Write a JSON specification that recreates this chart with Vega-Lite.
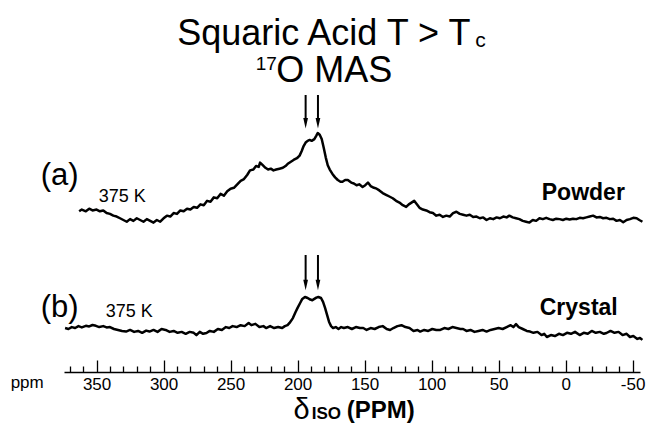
{
  "$schema": "https://vega.github.io/schema/vega-lite/v6.json",
  "width": 576,
  "height": 372,
  "autosize": {"type": "none"},
  "padding": {"left": 64, "top": 0, "right": 6, "bottom": 58},
  "background": "white",
  "config": {
    "view": {"stroke": null},
    "font": "Liberation Sans",
    "text": {"font": "Liberation Sans", "baseline": "alphabetic", "align": "left", "color": "black"}
  },
  "datasets": {
    "powder": [
      {"ppm": 363, "i": 0.10}, {"ppm": 361, "i": 0.12}, {"ppm": 358, "i": 0.10}, {"ppm": 355.5, "i": 0.13}, {"ppm": 353, "i": 0.11},
      {"ppm": 350, "i": 0.12}, {"ppm": 347.5, "i": 0.10}, {"ppm": 345, "i": 0.11}, {"ppm": 342.5, "i": 0.08}, {"ppm": 340, "i": 0.07},
      {"ppm": 337.5, "i": 0.05}, {"ppm": 335, "i": 0.04}, {"ppm": 332.5, "i": 0.02}, {"ppm": 330, "i": 0.0}, {"ppm": 327.5, "i": -0.02},
      {"ppm": 325, "i": 0.01}, {"ppm": 322.5, "i": -0.01}, {"ppm": 320, "i": 0.02}, {"ppm": 317.5, "i": 0.0}, {"ppm": 315, "i": -0.02},
      {"ppm": 312.5, "i": 0.01}, {"ppm": 310, "i": -0.01}, {"ppm": 307.5, "i": -0.03}, {"ppm": 305, "i": 0.0}, {"ppm": 302.5, "i": -0.02},
      {"ppm": 300, "i": 0.02}, {"ppm": 297.5, "i": 0.05}, {"ppm": 295, "i": 0.04}, {"ppm": 292.5, "i": 0.08}, {"ppm": 290, "i": 0.07},
      {"ppm": 287.5, "i": 0.11}, {"ppm": 285, "i": 0.10}, {"ppm": 282.5, "i": 0.13}, {"ppm": 280, "i": 0.12}, {"ppm": 277.5, "i": 0.15},
      {"ppm": 275, "i": 0.14}, {"ppm": 272.5, "i": 0.18}, {"ppm": 270, "i": 0.17}, {"ppm": 267.5, "i": 0.22}, {"ppm": 265, "i": 0.21},
      {"ppm": 262.5, "i": 0.26}, {"ppm": 260, "i": 0.25}, {"ppm": 257.5, "i": 0.30}, {"ppm": 255, "i": 0.28}, {"ppm": 252.5, "i": 0.33},
      {"ppm": 250, "i": 0.36}, {"ppm": 247.5, "i": 0.37}, {"ppm": 245, "i": 0.41}, {"ppm": 242.5, "i": 0.45}, {"ppm": 240, "i": 0.47},
      {"ppm": 237.5, "i": 0.52}, {"ppm": 235.5, "i": 0.57}, {"ppm": 233, "i": 0.58}, {"ppm": 231, "i": 0.62}, {"ppm": 229, "i": 0.61},
      {"ppm": 228, "i": 0.66}, {"ppm": 226, "i": 0.63}, {"ppm": 224, "i": 0.60}, {"ppm": 222, "i": 0.58}, {"ppm": 220, "i": 0.59},
      {"ppm": 218, "i": 0.57}, {"ppm": 216, "i": 0.58}, {"ppm": 213.5, "i": 0.59}, {"ppm": 211, "i": 0.60}, {"ppm": 209, "i": 0.62},
      {"ppm": 207, "i": 0.65}, {"ppm": 205, "i": 0.67}, {"ppm": 203, "i": 0.69}, {"ppm": 200.5, "i": 0.71}, {"ppm": 198.5, "i": 0.74},
      {"ppm": 197, "i": 0.79}, {"ppm": 195.5, "i": 0.85}, {"ppm": 194, "i": 0.89}, {"ppm": 192.5, "i": 0.91}, {"ppm": 191, "i": 0.92},
      {"ppm": 189.5, "i": 0.91}, {"ppm": 187.5, "i": 0.93}, {"ppm": 186, "i": 0.97}, {"ppm": 185, "i": 1.0}, {"ppm": 183.5, "i": 0.98},
      {"ppm": 182, "i": 0.93}, {"ppm": 180.5, "i": 0.83}, {"ppm": 179, "i": 0.72}, {"ppm": 177.5, "i": 0.63}, {"ppm": 176, "i": 0.58},
      {"ppm": 174, "i": 0.53}, {"ppm": 172, "i": 0.49}, {"ppm": 170, "i": 0.46}, {"ppm": 168, "i": 0.44}, {"ppm": 166.5, "i": 0.44},
      {"ppm": 164.5, "i": 0.46}, {"ppm": 162.5, "i": 0.46}, {"ppm": 160, "i": 0.43}, {"ppm": 158, "i": 0.42}, {"ppm": 156, "i": 0.40},
      {"ppm": 154, "i": 0.41}, {"ppm": 151.5, "i": 0.38}, {"ppm": 149.5, "i": 0.40}, {"ppm": 147.5, "i": 0.43}, {"ppm": 145.5, "i": 0.39},
      {"ppm": 143, "i": 0.37}, {"ppm": 141, "i": 0.36}, {"ppm": 139, "i": 0.34}, {"ppm": 136.5, "i": 0.31}, {"ppm": 134, "i": 0.29},
      {"ppm": 131.5, "i": 0.27}, {"ppm": 129, "i": 0.25}, {"ppm": 126.5, "i": 0.22}, {"ppm": 124, "i": 0.20}, {"ppm": 121.5, "i": 0.17},
      {"ppm": 119, "i": 0.15}, {"ppm": 117, "i": 0.18}, {"ppm": 115, "i": 0.20}, {"ppm": 113, "i": 0.22}, {"ppm": 111, "i": 0.18},
      {"ppm": 109, "i": 0.14}, {"ppm": 106.5, "i": 0.12}, {"ppm": 104, "i": 0.11}, {"ppm": 101.5, "i": 0.09}, {"ppm": 99, "i": 0.08},
      {"ppm": 96.5, "i": 0.05}, {"ppm": 94, "i": 0.06}, {"ppm": 91.5, "i": 0.035}, {"ppm": 89, "i": 0.05}, {"ppm": 86.5, "i": 0.04},
      {"ppm": 84, "i": 0.08}, {"ppm": 81.5, "i": 0.095}, {"ppm": 79, "i": 0.07}, {"ppm": 76.5, "i": 0.06}, {"ppm": 74, "i": 0.05},
      {"ppm": 71.5, "i": 0.06}, {"ppm": 69, "i": 0.035}, {"ppm": 66.5, "i": 0.04}, {"ppm": 64, "i": 0.02}, {"ppm": 61.5, "i": 0.03},
      {"ppm": 59, "i": 0.0}, {"ppm": 56.5, "i": 0.02}, {"ppm": 54, "i": 0.01}, {"ppm": 51.5, "i": 0.03}, {"ppm": 49, "i": 0.02},
      {"ppm": 46.5, "i": 0.04}, {"ppm": 44, "i": 0.03}, {"ppm": 42, "i": 0.05}, {"ppm": 39.5, "i": 0.03}, {"ppm": 37, "i": 0.02},
      {"ppm": 34.5, "i": 0.01}, {"ppm": 32, "i": -0.01}, {"ppm": 29.5, "i": -0.02}, {"ppm": 27, "i": -0.03}, {"ppm": 24.5, "i": 0.0},
      {"ppm": 22, "i": -0.01}, {"ppm": 19.5, "i": 0.02}, {"ppm": 17, "i": 0.01}, {"ppm": 14.5, "i": 0.025}, {"ppm": 12, "i": 0.01},
      {"ppm": 9.5, "i": 0.0}, {"ppm": 7, "i": 0.015}, {"ppm": 4.5, "i": 0.01}, {"ppm": 2, "i": 0.0}, {"ppm": -0.5, "i": 0.015},
      {"ppm": -3, "i": 0.005}, {"ppm": -5.5, "i": 0.015}, {"ppm": -8, "i": 0.01}, {"ppm": -10.5, "i": 0.025}, {"ppm": -13, "i": 0.02},
      {"ppm": -15.5, "i": 0.03}, {"ppm": -18, "i": 0.04}, {"ppm": -20.5, "i": 0.05}, {"ppm": -23, "i": 0.03}, {"ppm": -25.5, "i": 0.035},
      {"ppm": -28, "i": 0.02}, {"ppm": -30.5, "i": 0.025}, {"ppm": -33, "i": 0.01}, {"ppm": -35.5, "i": 0.015}, {"ppm": -38, "i": -0.01},
      {"ppm": -40.5, "i": 0.0}, {"ppm": -43, "i": -0.025}, {"ppm": -45.5, "i": 0.0}, {"ppm": -48, "i": 0.01}, {"ppm": -50.5, "i": 0.025},
      {"ppm": -53, "i": 0.02}, {"ppm": -55, "i": 0.0}, {"ppm": -57.3, "i": -0.02}
    ],
    "crystal": [
      {"ppm": 373.5, "i": 0.03}, {"ppm": 371, "i": 0.0}, {"ppm": 368.5, "i": 0.06}, {"ppm": 366, "i": 0.03}, {"ppm": 363.5, "i": 0.09},
      {"ppm": 361, "i": 0.05}, {"ppm": 358, "i": 0.10}, {"ppm": 355.5, "i": 0.08}, {"ppm": 353, "i": 0.125}, {"ppm": 350.5, "i": 0.10},
      {"ppm": 348, "i": 0.06}, {"ppm": 345, "i": 0.09}, {"ppm": 342.5, "i": 0.05}, {"ppm": 340, "i": 0.06}, {"ppm": 337, "i": 0.0},
      {"ppm": 334, "i": -0.03}, {"ppm": 331, "i": -0.06}, {"ppm": 328, "i": -0.08}, {"ppm": 325, "i": -0.03}, {"ppm": 322, "i": -0.09},
      {"ppm": 319, "i": -0.06}, {"ppm": 316, "i": -0.12}, {"ppm": 313, "i": -0.05}, {"ppm": 310.5, "i": -0.08}, {"ppm": 307.5, "i": -0.03},
      {"ppm": 304.5, "i": -0.09}, {"ppm": 301.5, "i": 0.0}, {"ppm": 298.5, "i": -0.03}, {"ppm": 295.5, "i": -0.09}, {"ppm": 292.5, "i": -0.06},
      {"ppm": 289.5, "i": -0.12}, {"ppm": 286.5, "i": -0.09}, {"ppm": 283.5, "i": -0.15}, {"ppm": 280.5, "i": -0.09}, {"ppm": 277.5, "i": -0.12},
      {"ppm": 275.5, "i": -0.19}, {"ppm": 273, "i": -0.09}, {"ppm": 270.5, "i": -0.15}, {"ppm": 268, "i": -0.125}, {"ppm": 265.5, "i": -0.06},
      {"ppm": 262.5, "i": -0.09}, {"ppm": 259.5, "i": 0.0}, {"ppm": 256.5, "i": -0.03}, {"ppm": 253.5, "i": 0.06}, {"ppm": 251, "i": 0.03},
      {"ppm": 248.5, "i": 0.09}, {"ppm": 245.5, "i": 0.06}, {"ppm": 242.5, "i": 0.12}, {"ppm": 239.5, "i": 0.09}, {"ppm": 236.5, "i": 0.19},
      {"ppm": 234.5, "i": 0.12}, {"ppm": 231.5, "i": 0.16}, {"ppm": 228.5, "i": 0.06}, {"ppm": 225.5, "i": 0.09}, {"ppm": 223.5, "i": 0.03},
      {"ppm": 220.5, "i": 0.09}, {"ppm": 217.5, "i": 0.03}, {"ppm": 214.5, "i": 0.06}, {"ppm": 211.5, "i": 0.03}, {"ppm": 209.5, "i": 0.09},
      {"ppm": 207.5, "i": 0.12}, {"ppm": 206, "i": 0.19}, {"ppm": 203.5, "i": 0.34}, {"ppm": 201.5, "i": 0.53}, {"ppm": 200, "i": 0.66},
      {"ppm": 198, "i": 0.82}, {"ppm": 196.5, "i": 0.94}, {"ppm": 194.5, "i": 1.0}, {"ppm": 192.5, "i": 0.97}, {"ppm": 190.5, "i": 0.92},
      {"ppm": 189, "i": 0.9}, {"ppm": 187.5, "i": 0.94}, {"ppm": 186, "i": 0.98}, {"ppm": 184.5, "i": 1.0}, {"ppm": 182.5, "i": 0.97},
      {"ppm": 181, "i": 0.85}, {"ppm": 179.5, "i": 0.66}, {"ppm": 178, "i": 0.44}, {"ppm": 176.5, "i": 0.22}, {"ppm": 175, "i": 0.09},
      {"ppm": 173.5, "i": 0.03}, {"ppm": 171.5, "i": 0.06}, {"ppm": 169.5, "i": 0.0}, {"ppm": 167.5, "i": 0.06}, {"ppm": 165.5, "i": 0.03},
      {"ppm": 162.5, "i": 0.06}, {"ppm": 159.5, "i": 0.0}, {"ppm": 156.5, "i": 0.06}, {"ppm": 153.5, "i": 0.03}, {"ppm": 151, "i": 0.03},
      {"ppm": 148.5, "i": -0.03}, {"ppm": 145.5, "i": 0.03}, {"ppm": 142.5, "i": 0.0}, {"ppm": 139.5, "i": 0.06}, {"ppm": 136.5, "i": 0.09},
      {"ppm": 133.5, "i": 0.0}, {"ppm": 131, "i": -0.03}, {"ppm": 128.5, "i": 0.03}, {"ppm": 125.5, "i": 0.09}, {"ppm": 122.5, "i": 0.12},
      {"ppm": 119.5, "i": 0.06}, {"ppm": 116.5, "i": 0.03}, {"ppm": 113.5, "i": -0.06}, {"ppm": 110.5, "i": -0.03}, {"ppm": 108.5, "i": -0.08},
      {"ppm": 105.5, "i": -0.03}, {"ppm": 102.5, "i": -0.06}, {"ppm": 99.5, "i": 0.0}, {"ppm": 96.5, "i": -0.03}, {"ppm": 93.5, "i": -0.03},
      {"ppm": 90.5, "i": 0.03}, {"ppm": 87.5, "i": 0.0}, {"ppm": 84.5, "i": 0.06}, {"ppm": 81.5, "i": 0.03}, {"ppm": 78.5, "i": 0.0},
      {"ppm": 76.5, "i": 0.0}, {"ppm": 74, "i": -0.06}, {"ppm": 71, "i": -0.03}, {"ppm": 68, "i": -0.09}, {"ppm": 65, "i": -0.06},
      {"ppm": 62, "i": -0.03}, {"ppm": 59, "i": -0.08}, {"ppm": 56, "i": -0.03}, {"ppm": 53, "i": 0.0}, {"ppm": 50, "i": 0.03},
      {"ppm": 47, "i": 0.0}, {"ppm": 44, "i": 0.06}, {"ppm": 41, "i": 0.12}, {"ppm": 39, "i": 0.06}, {"ppm": 37, "i": 0.15},
      {"ppm": 35, "i": 0.06}, {"ppm": 32, "i": 0.0}, {"ppm": 29, "i": -0.06}, {"ppm": 26.5, "i": -0.08}, {"ppm": 24, "i": -0.12},
      {"ppm": 21, "i": -0.09}, {"ppm": 18, "i": -0.19}, {"ppm": 16, "i": -0.15}, {"ppm": 14, "i": -0.25}, {"ppm": 11, "i": -0.19},
      {"ppm": 8, "i": -0.22}, {"ppm": 5, "i": -0.15}, {"ppm": 2, "i": -0.19}, {"ppm": -1, "i": -0.12}, {"ppm": -4, "i": -0.15},
      {"ppm": -7, "i": -0.09}, {"ppm": -10.5, "i": -0.19}, {"ppm": -13.5, "i": -0.12}, {"ppm": -16.5, "i": -0.15}, {"ppm": -19.5, "i": -0.06},
      {"ppm": -22.5, "i": -0.12}, {"ppm": -25.5, "i": -0.09}, {"ppm": -28.5, "i": -0.15}, {"ppm": -30.5, "i": -0.125}, {"ppm": -33.5, "i": -0.06},
      {"ppm": -36.5, "i": -0.12}, {"ppm": -39.5, "i": -0.09}, {"ppm": -42.5, "i": -0.19}, {"ppm": -45.5, "i": -0.15}, {"ppm": -48, "i": -0.25},
      {"ppm": -50.5, "i": -0.22}, {"ppm": -53.5, "i": -0.31}, {"ppm": -55.5, "i": -0.28}, {"ppm": -57.3, "i": -0.34}
    ],
    "powderArrows": [
      {"ppm": 194.0, "top": 1.4368, "bot": 1.1494, "tip": 1.1115},
      {"ppm": 184.8, "top": 1.4368, "bot": 1.1494, "tip": 1.1115}
    ],
    "crystalArrows": [
      {"ppm": 194.0, "top": 2.3125, "bot": 1.46875, "tip": 1.375},
      {"ppm": 184.8, "top": 2.3125, "bot": 1.46875, "tip": 1.375}
    ],
    "titleBig": [
      {"ppm": 289.8, "v": 2.0115, "t": "Squaric Acid T > T"},
      {"ppm": 216.0, "v": 1.5862, "t": "O MAS"}
    ],
    "titleSub": [{"ppm": 67.5, "v": 1.9885, "t": "c"}],
    "titleSup": [{"ppm": 231.3, "v": 1.7241, "t": "17"}],
    "labelA": [{"ppm": 391.7, "v": 0.4023, "t": "(a)"}],
    "tempA": [{"ppm": 348.4, "v": 0.2103, "t": "375 K"}],
    "namePowder": [{"ppm": 17.8, "v": 0.2356, "t": "Powder"}],
    "labelB": [{"ppm": 391.7, "v": 0.375, "t": "(b)"}],
    "tempB": [{"ppm": 343.2, "v": 0.384, "t": "375 K"}],
    "nameCrystal": [{"ppm": 19.3, "v": 0.4375, "t": "Crystal"}],
    "unitLabel": [{"ppm": 414.1, "v": -1.84375, "t": "ppm"}],
    "axisDelta": [{"ppm": 203, "v": -2.8125, "t": "δ"}],
    "axisIso": [{"ppm": 189.5, "v": -2.822, "t": "ISO"}],
    "axisPpm": [{"ppm": 163.4, "v": -2.79, "t": "(PPM)"}]
  },
  "resolve": {"scale": {"y": "independent"}, "axis": {"x": "independent", "y": "independent"}},
  "layer": [
    {
      "data": {"name": "powder"},
      "mark": {"type": "line", "color": "black", "strokeWidth": 2.5, "strokeJoin": "round", "clip": false},
      "encoding": {
        "x": {"field": "ppm", "type": "quantitative", "scale": {"domain": [-55.5, 374.3], "reverse": true, "nice": false, "zero": false},
          "axis": {"orient": "bottom", "values": [350, 300, 250, 200, 150, 100, 50, 0, -50], "ticks": false, "domain": true, "domainColor": "black", "domainWidth": 1.5, "labels": true, "labelFont": "Liberation Sans", "labelFontSize": 17, "labelColor": "black", "labelPadding": 4, "labelFlush": false, "labelOverlap": false, "labelBound": false, "labelExpr": "'' + datum.value", "grid": false, "title": null}},
        "y": {"field": "i", "type": "quantitative", "scale": {"domain": [-1.74713, 2.52874], "nice": false, "zero": false}, "axis": null},
        "order": {"field": "ppm", "sort": "descending"}
      }
    },
    {
      "data": {"name": "crystal"},
      "mark": {"type": "line", "color": "black", "strokeWidth": 2.5, "strokeJoin": "round", "clip": false},
      "encoding": {
        "x": {"field": "ppm", "type": "quantitative", "scale": {"domain": [-55.5, 374.3], "reverse": true, "nice": false, "zero": false},
          "axis": {"orient": "bottom", "values": [350, 300, 250, 200, 150, 100, 50, 0, -50], "ticks": true, "tickSize": -12, "tickWidth": 1.3, "tickColor": "black", "domain": false, "labels": false, "grid": false, "title": null}},
        "y": {"field": "i", "type": "quantitative", "scale": {"domain": [-1.34375, 10.28125], "nice": false, "zero": false}, "axis": null},
        "order": {"field": "ppm", "sort": "descending"}
      }
    },
    {
      "data": {"name": "crystalArrows"},
      "mark": {"type": "rule", "color": "black", "strokeWidth": 2},
      "encoding": {
        "x": {"field": "ppm", "type": "quantitative", "scale": {"domain": [-55.5, 374.3], "reverse": true, "nice": false, "zero": false},
          "axis": {"orient": "bottom", "values": [370, 360, 340, 330, 320, 310, 290, 280, 270, 260, 240, 230, 220, 210, 190, 180, 170, 160, 140, 130, 120, 110, 90, 80, 70, 60, 40, 30, 20, 10, -10, -20, -30, -40], "ticks": true, "tickSize": -6, "tickWidth": 1.3, "tickColor": "black", "domain": false, "labels": false, "grid": false, "title": null}},
        "y": {"field": "top", "type": "quantitative", "scale": {"domain": [-1.34375, 10.28125], "nice": false, "zero": false}, "axis": null},
        "y2": {"field": "bot"}
      }
    },
    {
      "data": {"name": "crystalArrows"},
      "mark": {"type": "point", "shape": "M-0.45,-1L0.45,-1L0,1Z", "filled": true, "color": "black", "opacity": 1, "size": 110},
      "encoding": {
        "x": {"field": "ppm", "type": "quantitative", "scale": {"domain": [-55.5, 374.3], "reverse": true, "nice": false, "zero": false}, "axis": null},
        "y": {"field": "tip", "type": "quantitative", "scale": {"domain": [-1.34375, 10.28125], "nice": false, "zero": false}, "axis": null}
      }
    },
    {
      "data": {"name": "powderArrows"},
      "mark": {"type": "rule", "color": "black", "strokeWidth": 2},
      "encoding": {
        "x": {"field": "ppm", "type": "quantitative", "scale": {"domain": [-55.5, 374.3], "reverse": true, "nice": false, "zero": false}, "axis": null},
        "y": {"field": "top", "type": "quantitative", "scale": {"domain": [-1.74713, 2.52874], "nice": false, "zero": false}, "axis": null},
        "y2": {"field": "bot"}
      }
    },
    {
      "data": {"name": "powderArrows"},
      "mark": {"type": "point", "shape": "M-0.45,-1L0.45,-1L0,1Z", "filled": true, "color": "black", "opacity": 1, "size": 110},
      "encoding": {
        "x": {"field": "ppm", "type": "quantitative", "scale": {"domain": [-55.5, 374.3], "reverse": true, "nice": false, "zero": false}, "axis": null},
        "y": {"field": "tip", "type": "quantitative", "scale": {"domain": [-1.74713, 2.52874], "nice": false, "zero": false}, "axis": null}
      }
    },
    {
      "data": {"name": "titleBig"},
      "mark": {"type": "text", "fontSize": 36, "font": "Liberation Sans", "align": "left", "baseline": "alphabetic", "color": "black"},
      "encoding": {
        "x": {"field": "ppm", "type": "quantitative", "scale": {"domain": [-55.5, 374.3], "reverse": true, "nice": false, "zero": false}, "axis": null},
        "y": {"field": "v", "type": "quantitative", "scale": {"domain": [-1.74713, 2.52874], "nice": false, "zero": false}, "axis": null},
        "text": {"field": "t"}
      }
    },
    {
      "data": {"name": "titleSub"},
      "mark": {"type": "text", "fontSize": 21, "font": "Liberation Sans", "align": "left", "baseline": "alphabetic", "color": "black"},
      "encoding": {
        "x": {"field": "ppm", "type": "quantitative", "scale": {"domain": [-55.5, 374.3], "reverse": true, "nice": false, "zero": false}, "axis": null},
        "y": {"field": "v", "type": "quantitative", "scale": {"domain": [-1.74713, 2.52874], "nice": false, "zero": false}, "axis": null},
        "text": {"field": "t"}
      }
    },
    {
      "data": {"name": "titleSup"},
      "mark": {"type": "text", "fontSize": 19, "font": "Liberation Sans", "align": "left", "baseline": "alphabetic", "color": "black"},
      "encoding": {
        "x": {"field": "ppm", "type": "quantitative", "scale": {"domain": [-55.5, 374.3], "reverse": true, "nice": false, "zero": false}, "axis": null},
        "y": {"field": "v", "type": "quantitative", "scale": {"domain": [-1.74713, 2.52874], "nice": false, "zero": false}, "axis": null},
        "text": {"field": "t"}
      }
    },
    {
      "data": {"name": "labelA"},
      "mark": {"type": "text", "fontSize": 31, "font": "Liberation Sans", "align": "left", "baseline": "alphabetic", "color": "black"},
      "encoding": {
        "x": {"field": "ppm", "type": "quantitative", "scale": {"domain": [-55.5, 374.3], "reverse": true, "nice": false, "zero": false}, "axis": null},
        "y": {"field": "v", "type": "quantitative", "scale": {"domain": [-1.74713, 2.52874], "nice": false, "zero": false}, "axis": null},
        "text": {"field": "t"}
      }
    },
    {
      "data": {"name": "tempA"},
      "mark": {"type": "text", "fontSize": 18, "font": "Liberation Sans", "align": "left", "baseline": "alphabetic", "color": "black"},
      "encoding": {
        "x": {"field": "ppm", "type": "quantitative", "scale": {"domain": [-55.5, 374.3], "reverse": true, "nice": false, "zero": false}, "axis": null},
        "y": {"field": "v", "type": "quantitative", "scale": {"domain": [-1.74713, 2.52874], "nice": false, "zero": false}, "axis": null},
        "text": {"field": "t"}
      }
    },
    {
      "data": {"name": "namePowder"},
      "mark": {"type": "text", "fontSize": 23, "fontWeight": "bold", "font": "Liberation Sans", "align": "left", "baseline": "alphabetic", "color": "black"},
      "encoding": {
        "x": {"field": "ppm", "type": "quantitative", "scale": {"domain": [-55.5, 374.3], "reverse": true, "nice": false, "zero": false}, "axis": null},
        "y": {"field": "v", "type": "quantitative", "scale": {"domain": [-1.74713, 2.52874], "nice": false, "zero": false}, "axis": null},
        "text": {"field": "t"}
      }
    },
    {
      "data": {"name": "labelB"},
      "mark": {"type": "text", "fontSize": 31, "font": "Liberation Sans", "align": "left", "baseline": "alphabetic", "color": "black"},
      "encoding": {
        "x": {"field": "ppm", "type": "quantitative", "scale": {"domain": [-55.5, 374.3], "reverse": true, "nice": false, "zero": false}, "axis": null},
        "y": {"field": "v", "type": "quantitative", "scale": {"domain": [-1.34375, 10.28125], "nice": false, "zero": false}, "axis": null},
        "text": {"field": "t"}
      }
    },
    {
      "data": {"name": "tempB"},
      "mark": {"type": "text", "fontSize": 18, "font": "Liberation Sans", "align": "left", "baseline": "alphabetic", "color": "black"},
      "encoding": {
        "x": {"field": "ppm", "type": "quantitative", "scale": {"domain": [-55.5, 374.3], "reverse": true, "nice": false, "zero": false}, "axis": null},
        "y": {"field": "v", "type": "quantitative", "scale": {"domain": [-1.34375, 10.28125], "nice": false, "zero": false}, "axis": null},
        "text": {"field": "t"}
      }
    },
    {
      "data": {"name": "nameCrystal"},
      "mark": {"type": "text", "fontSize": 23, "fontWeight": "bold", "font": "Liberation Sans", "align": "left", "baseline": "alphabetic", "color": "black"},
      "encoding": {
        "x": {"field": "ppm", "type": "quantitative", "scale": {"domain": [-55.5, 374.3], "reverse": true, "nice": false, "zero": false}, "axis": null},
        "y": {"field": "v", "type": "quantitative", "scale": {"domain": [-1.34375, 10.28125], "nice": false, "zero": false}, "axis": null},
        "text": {"field": "t"}
      }
    },
    {
      "data": {"name": "unitLabel"},
      "mark": {"type": "text", "fontSize": 17, "font": "Liberation Sans", "align": "left", "baseline": "alphabetic", "color": "black"},
      "encoding": {
        "x": {"field": "ppm", "type": "quantitative", "scale": {"domain": [-55.5, 374.3], "reverse": true, "nice": false, "zero": false}, "axis": null},
        "y": {"field": "v", "type": "quantitative", "scale": {"domain": [-1.34375, 10.28125], "nice": false, "zero": false}, "axis": null},
        "text": {"field": "t"}
      }
    },
    {
      "data": {"name": "axisDelta"},
      "mark": {"type": "text", "fontSize": 29, "font": "Liberation Sans", "align": "left", "baseline": "alphabetic", "color": "black"},
      "encoding": {
        "x": {"field": "ppm", "type": "quantitative", "scale": {"domain": [-55.5, 374.3], "reverse": true, "nice": false, "zero": false}, "axis": null},
        "y": {"field": "v", "type": "quantitative", "scale": {"domain": [-1.34375, 10.28125], "nice": false, "zero": false}, "axis": null},
        "text": {"field": "t"}
      }
    },
    {
      "data": {"name": "axisIso"},
      "mark": {"type": "text", "fontSize": 17, "fontWeight": "bold", "font": "Liberation Sans", "align": "left", "baseline": "alphabetic", "color": "black"},
      "encoding": {
        "x": {"field": "ppm", "type": "quantitative", "scale": {"domain": [-55.5, 374.3], "reverse": true, "nice": false, "zero": false}, "axis": null},
        "y": {"field": "v", "type": "quantitative", "scale": {"domain": [-1.34375, 10.28125], "nice": false, "zero": false}, "axis": null},
        "text": {"field": "t"}
      }
    },
    {
      "data": {"name": "axisPpm"},
      "mark": {"type": "text", "fontSize": 24, "fontWeight": "bold", "font": "Liberation Sans", "align": "left", "baseline": "alphabetic", "color": "black"},
      "encoding": {
        "x": {"field": "ppm", "type": "quantitative", "scale": {"domain": [-55.5, 374.3], "reverse": true, "nice": false, "zero": false}, "axis": null},
        "y": {"field": "v", "type": "quantitative", "scale": {"domain": [-1.34375, 10.28125], "nice": false, "zero": false}, "axis": null},
        "text": {"field": "t"}
      }
    }
  ]
}
